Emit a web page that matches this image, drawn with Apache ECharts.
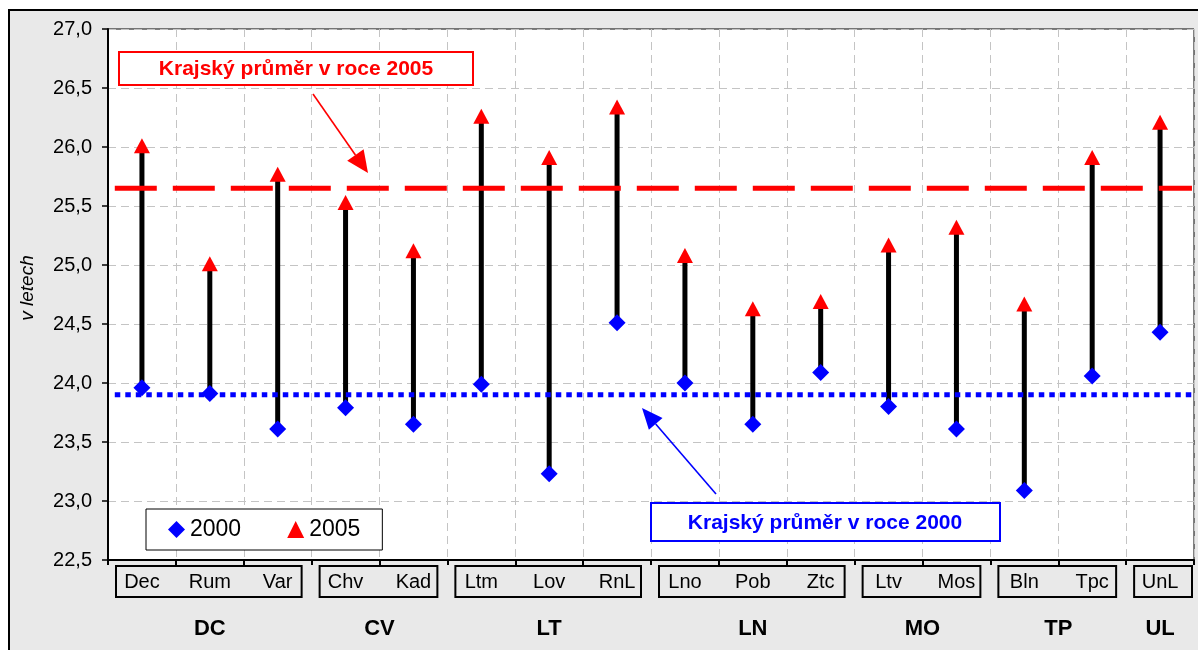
<!DOCTYPE html>
<html><head><meta charset="utf-8">
<script src="https://cdn.jsdelivr.net/npm/echarts@6/dist/echarts.min.js"></script>
<style>
html,body{margin:0;padding:0;background:#fff}
#wrap{position:relative;width:1198px;height:650px;background:#fff;overflow:hidden}
#panel{position:absolute;left:8px;top:9px;width:1200px;height:660px;background:#e9e9e9;border:2px solid #000}
#c{position:absolute;left:0;top:0;width:1198px;height:650px}
</style>
</head><body>
<div id="wrap"><div id="panel"></div><div id="c"></div></div>
<script>
const categories = ['Dec','Rum','Var','Chv','Kad','Ltm','Lov','RnL','Lno','Pob','Ztc','Ltv','Mos','Bln','Tpc','UnL'];
const groupNames = ['DC','CV','LT','LN','MO','TP','UL'];
const groupSizes = [3,2,3,3,2,2,1];
const values2000 = [23.96,23.91,23.61,23.79,23.65,23.99,23.23,24.51,24.00,23.65,24.09,23.80,23.61,23.09,24.06,24.43];
const values2005 = [26.01,25.01,25.77,25.53,25.12,26.26,25.91,26.34,25.08,24.63,24.69,25.17,25.32,24.67,25.91,26.21];
const avg2000 = 23.90;
const avg2005 = 25.65;
const yMin = 22.5, yMax = 27.0, yStep = 0.5;
const seriesNames = ['2000','2005'];
const yAxisName = 'v letech';
const note2005 = 'Krajský průměr v roce 2005';
const note2000 = 'Krajský průměr v roce 2000';

const FONT = '"Liberation Sans", Arial, sans-serif';
const chart = echarts.init(document.getElementById('c'), null, {renderer:'canvas'});

const option = {
  animation:false,
  backgroundColor:'transparent',
  grid:{left:108, top:29, right:4, bottom:90, show:true, backgroundColor:'#fff', borderColor:'#000', borderWidth:1, outerBoundsMode:'none'},
  legend:{
    data:seriesNames, left:146, top:509, orient:'horizontal',
    padding:[9,22,9,22], itemGap:46, itemWidth:17, itemHeight:17,
    backgroundColor:'#fff', borderColor:'#000', borderWidth:1, borderRadius:0,
    textStyle:{fontSize:23, color:'#000', fontFamily:FONT},
    selectedMode:false
  },
  xAxis:[{
    type:'category', data:categories, boundaryGap:true,
    axisLine:{show:true, lineStyle:{color:'#000', width:2}},
    axisTick:{show:true, length:5, lineStyle:{color:'#000', width:2}},
    axisLabel:{interval:0, fontSize:20, color:'#000', fontFamily:FONT, margin:12},
    splitLine:{show:true, lineStyle:{color:'#c4c4c4', width:1, type:[8,5]}}
  },{
    type:'value', min:0, max:16, show:false
  }],
  yAxis:{
    type:'value', min:yMin, max:yMax, interval:yStep,
    axisLine:{show:true, lineStyle:{color:'#000', width:2}},
    axisTick:{show:true, length:6, lineStyle:{color:'#000', width:1.5}},
    axisLabel:{fontSize:20, color:'#000', fontFamily:FONT, margin:16,
      formatter:v=>v.toFixed(1).replace('.', ',')},
    splitLine:{show:true, lineStyle:{color:'#c4c4c4', width:1, type:[8,5]}}
  },
  series:[
    {
      type:'custom', name:'stems', silent:true, z:2,
      renderItem:(params, api)=>{
        const p1 = api.coord([api.value(0), api.value(1)]);
        const p2 = api.coord([api.value(0), api.value(2)]);
        return {type:'line', shape:{x1:p1[0], y1:p1[1], x2:p2[0], y2:p2[1]}, style:{stroke:'#000', lineWidth:5}};
      },
      data:categories.map((c,i)=>[i, values2000[i], values2005[i]])
    },
    {
      type:'line', name:'avg2005', xAxisIndex:1, silent:true, z:3, symbol:'none',
      lineStyle:{color:'#ff0000', width:5, type:[42,16], cap:'butt'},
      data:[[0.1, avg2005],[15.97, avg2005]]
    },
    {
      type:'line', name:'avg2000', xAxisIndex:1, silent:true, z:3, symbol:'none',
      lineStyle:{color:'#0000ff', width:5, type:[5.5,5], cap:'butt'},
      data:[[0.1, avg2000],[15.97, avg2000]]
    },
    {
      type:'scatter', name:seriesNames[0], z:4, symbol:'diamond', symbolSize:[17,17],
      itemStyle:{color:'#0000ff', opacity:1}, data:values2000
    },
    {
      type:'scatter', name:seriesNames[1], z:4, symbol:'triangle', symbolSize:[16,15],
      itemStyle:{color:'#ff0000', opacity:1}, data:values2005
    }
  ]
};
chart.setOption(option);

function arrow(x1,y1,x2,y2,color,hl,hw){
  const dx=x2-x1, dy=y2-y1, L=Math.hypot(dx,dy), ux=dx/L, uy=dy/L;
  const bx=x2-ux*hl, by=y2-uy*hl, px=-uy, py=ux;
  return [
    {type:'line', z:100, shape:{x1:x1,y1:y1,x2:bx,y2:by}, style:{stroke:color, lineWidth:1.6}},
    {type:'polygon', z:100, shape:{points:[[x2,y2],[bx+px*hw,by+py*hw],[bx-px*hw,by-py*hw]]}, style:{fill:color}}
  ];
}

const els = [];
const c0 = chart.convertToPixel({xAxisIndex:0}, 0);
const c1 = chart.convertToPixel({xAxisIndex:0}, 1);
const bw = c1 - c0;
let idx = 0;
groupSizes.forEach((n, gi)=>{
  const left = chart.convertToPixel({xAxisIndex:0}, idx) - bw/2;
  const right = chart.convertToPixel({xAxisIndex:0}, idx+n-1) + bw/2;
  const bx = left + 8, bxr = (gi === groupSizes.length-1) ? right - 2 : right - 10;
  els.push({type:'rect', z:100, shape:{x:bx, y:566, width:bxr-bx, height:31}, style:{fill:'transparent', stroke:'#000', lineWidth:2}});
  els.push({type:'text', z:100, x:(left+right)/2, y:629, style:{text:groupNames[gi], fill:'#000', font:'bold 22px '+FONT, textAlign:'center', textVerticalAlign:'middle'}});
  idx += n;
});
els.push({type:'text', z:100, x:28, y:288, rotation:Math.PI/2, style:{text:yAxisName, fill:'#000', font:'italic 19px '+FONT, textAlign:'center', textVerticalAlign:'middle'}});
els.push({type:'rect', z:100, shape:{x:119, y:52, width:354, height:33}, style:{fill:'#fff', stroke:'#ff0000', lineWidth:2}});
els.push({type:'text', z:101, x:296, y:69, style:{text:note2005, fill:'#ff0000', font:'bold 21px '+FONT, textAlign:'center', textVerticalAlign:'middle'}});
arrow(313,94,368,173,'#ff0000',22,10).forEach(e=>els.push(e));
els.push({type:'rect', z:100, shape:{x:651, y:503, width:349, height:38}, style:{fill:'#fff', stroke:'#0000ff', lineWidth:2}});
els.push({type:'text', z:101, x:825, y:523, style:{text:note2000, fill:'#0000ff', font:'bold 21px '+FONT, textAlign:'center', textVerticalAlign:'middle'}});
arrow(716,494,642,408,'#0000ff',21,9).forEach(e=>els.push(e));

chart.setOption({graphic:{elements:els}});
</script>
</body></html>
